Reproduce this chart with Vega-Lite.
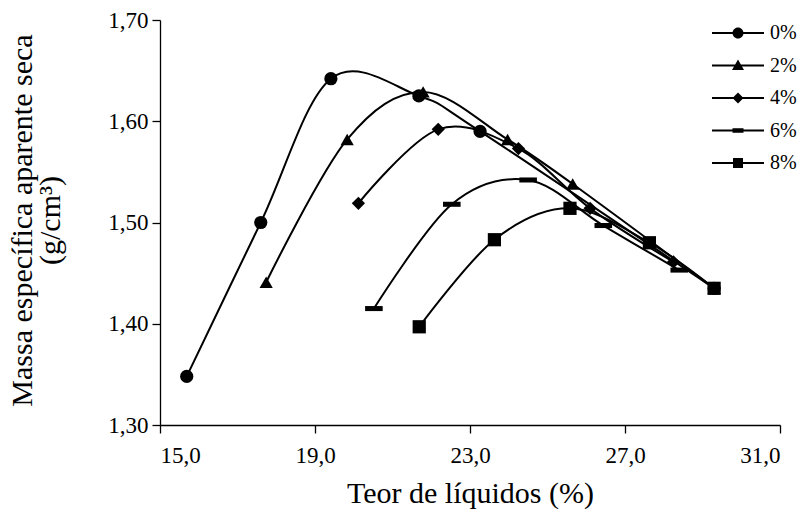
{
  "$schema": "https://vega.github.io/schema/vega-lite/v6.json",
  "width": 620,
  "height": 405,
  "autosize": {"type": "none"},
  "padding": {"left": 160, "top": 20, "right": 26, "bottom": 90},
  "config": {
    "view": {"stroke": null},
    "font": "Liberation Serif",
    "axis": {
      "grid": false,
      "domainColor": "black",
      "domainWidth": 1.3,
      "tickColor": "black",
      "tickWidth": 1.3,
      "tickSize": 8,
      "labelColor": "black",
      "labelFont": "Liberation Serif",
      "labelFontSize": 23,
      "titleColor": "black",
      "titleFont": "Liberation Serif",
      "titleFontSize": 30,
      "titleFontWeight": "normal"
    }
  },
  "data": {
    "values": [
      {"teor": 15.69, "massa": 1.348, "serie": "0%"},
      {"teor": 17.60, "massa": 1.500, "serie": "0%"},
      {"teor": 19.41, "massa": 1.642, "serie": "0%"},
      {"teor": 21.68, "massa": 1.625, "serie": "0%"},
      {"teor": 23.26, "massa": 1.590, "serie": "0%"},
      {"teor": 29.30, "massa": 1.435, "serie": "0%"},
      {"teor": 17.74, "massa": 1.441, "serie": "2%"},
      {"teor": 19.83, "massa": 1.582, "serie": "2%"},
      {"teor": 21.79, "massa": 1.629, "serie": "2%"},
      {"teor": 23.97, "massa": 1.582, "serie": "2%"},
      {"teor": 25.65, "massa": 1.538, "serie": "2%"},
      {"teor": 29.30, "massa": 1.435, "serie": "2%"},
      {"teor": 20.12, "massa": 1.519, "serie": "4%"},
      {"teor": 22.18, "massa": 1.592, "serie": "4%"},
      {"teor": 24.25, "massa": 1.573, "serie": "4%"},
      {"teor": 26.10, "massa": 1.514, "serie": "4%"},
      {"teor": 28.25, "massa": 1.461, "serie": "4%"},
      {"teor": 20.52, "massa": 1.415, "serie": "6%"},
      {"teor": 22.53, "massa": 1.518, "serie": "6%"},
      {"teor": 24.50, "massa": 1.542, "serie": "6%"},
      {"teor": 26.44, "massa": 1.497, "serie": "6%"},
      {"teor": 28.40, "massa": 1.453, "serie": "6%"},
      {"teor": 21.69, "massa": 1.397, "serie": "8%"},
      {"teor": 23.63, "massa": 1.483, "serie": "8%"},
      {"teor": 25.58, "massa": 1.514, "serie": "8%"},
      {"teor": 27.63, "massa": 1.480, "serie": "8%"},
      {"teor": 29.30, "massa": 1.435, "serie": "8%"}
    ]
  },
  "encoding": {
    "x": {
      "field": "teor",
      "type": "quantitative",
      "scale": {"domain": [15, 31], "nice": false, "zero": false},
      "axis": {
        "title": "Teor de líquidos (%)",
        "values": [15, 19, 23, 27, 31],
        "labelExpr": "replace(format(datum.value, '.1f'), '.', ',')",
        "labelPadding": 11,
        "titleY": 53
      }
    },
    "y": {
      "field": "massa",
      "type": "quantitative",
      "scale": {"domain": [1.3, 1.7], "nice": false, "zero": false},
      "axis": {
        "title": ["Massa específica aparente seca", "(g/cm³)"],
        "values": [1.3, 1.4, 1.5, 1.6, 1.7],
        "labelExpr": "replace(format(datum.value, '.2f'), '.', ',')",
        "labelPadding": 4,
        "titleX": -123,
        "titleY": 200,
        "titleFontSize": 30,
        "titleLineHeight": 28
      }
    }
  },
  "layer": [
    {
      "mark": {"type": "line", "interpolate": "cardinal", "color": "black", "strokeWidth": 2},
      "encoding": {"detail": {"field": "serie", "type": "nominal"}}
    },
    {
      "mark": {"type": "point", "filled": true, "opacity": 1, "color": "black", "size": 175},
      "encoding": {
        "shape": {
          "field": "serie",
          "type": "nominal",
          "scale": {
            "domain": ["0%", "2%", "4%", "6%", "8%"],
            "range": ["circle", "triangle-up", "diamond", "M-1.33,-0.38H1.33V0.38H-1.33Z", "square"]
          },
          "legend": null
        }
      }
    },
    {
      "transform": [{"filter": "false"}],
      "mark": {"type": "point", "filled": true, "color": "black", "size": 100},
      "encoding": {
        "shape": {
          "field": "serie",
          "type": "nominal",
          "scale": {
            "domain": ["0%", "2%", "4%", "6%", "8%"],
            "range": [
              "M-5.2,-0.2H5.2V0.2H-5.2ZM-1.1,0C-1.1,-0.6,-0.6,-1.1,0,-1.1C0.6,-1.1,1.1,-0.6,1.1,0C1.1,0.6,0.6,1.1,0,1.1C-0.6,1.1,-1.1,0.6,-1.1,0Z",
              "M-5.2,-0.2H5.2V0.2H-5.2ZM-1.2,0.9L0,-1.2L1.2,0.9Z",
              "M-5.2,-0.2H5.2V0.2H-5.2ZM-1.1,0L0,-1.1L1.1,0L0,1.1Z",
              "M-5.2,-0.2H5.2V0.2H-5.2ZM-1.1,-0.45H1.1V0.45H-1.1Z",
              "M-5.2,-0.2H5.2V0.2H-5.2ZM-1,-1H1V1H-1Z"
            ]
          },
          "legend": {
            "title": null,
            "orient": "none",
            "legendX": 568,
            "legendY": 3,
            "padding": 0,
            "rowPadding": 12.5,
            "symbolSize": 100,
            "symbolFillColor": "black",
            "symbolOpacity": 1,
            "labelOffset": 22,
            "labelFont": "Liberation Serif",
            "labelFontSize": 20,
            "labelColor": "black"
          }
        }
      }
    }
  ],
  "resolve": {"scale": {"shape": "independent"}}
}
